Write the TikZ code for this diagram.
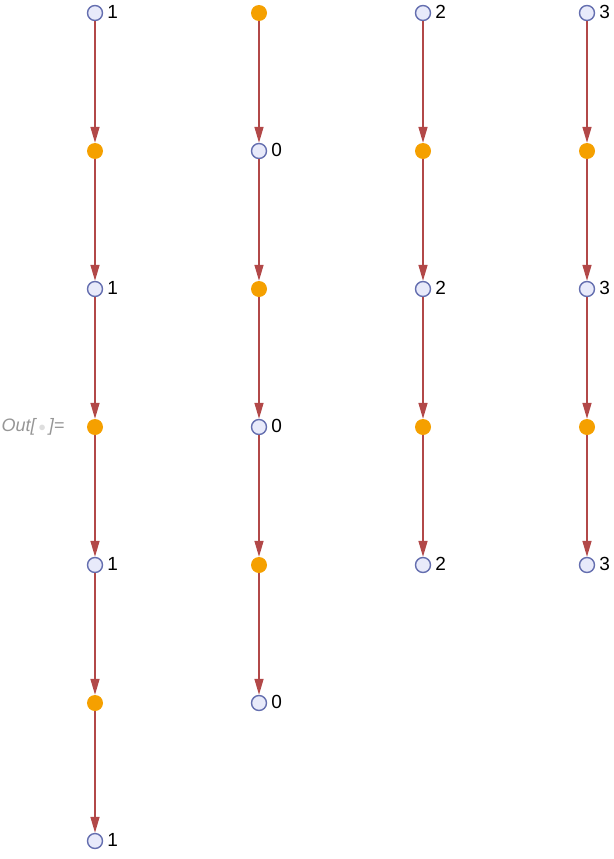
\documentclass[tikz,border=0pt]{standalone}
\usepackage{fontspec}
\setmainfont{Liberation Sans}
\usetikzlibrary{arrows.meta}
\definecolor{edgered}{RGB}{178,72,72}
\definecolor{vblue}{RGB}{100,110,175}
\definecolor{vfill}{RGB}{232,234,250}
\definecolor{vorange}{RGB}{245,160,0}
\definecolor{outgray}{RGB}{150,150,150}
\tikzset{
	every node/.style = {font=\fontsize{18}{20}\selectfont},
	val/.style = {circle, draw=vblue, fill=vfill, line width=1.4pt, minimum size=15pt, inner sep=0pt},
	lab/.style = {inner sep=0pt, anchor=west, xshift=4pt, yshift=1pt, font=\fontsize{19}{21}\selectfont},
	op/.style = {circle, fill=vorange, minimum size=16pt, inner sep=0pt},
	edge/.style = {-{Triangle[length=16pt,width=9pt]}, edgered, line width=1.5pt}
}

\begin{document}
\begin{tikzpicture}[x=1pt, y=-1pt]
		\useasboundingbox (0,0) rectangle (613,859);
		% prompt
		\node[font=\fontsize{18}{20}\selectfont\itshape, text=outgray, inner sep=0pt] (out) at (33,427) {Out[\,{\color{black!13}\Large$\bullet$}\,]=};
		% chains: column / x / value / length / starts with op
		\foreach \c/\x/\v/\n/\s in {1/95/1/7/0, 2/259/0/6/1, 3/423/2/5/0, 4/587/3/5/0} {
			\foreach \r in {1,...,\n} {
				\pgfmathtruncatemacro{\odd}{mod(\r+\s,2)}
				\ifnum\odd=1
					\node[val, label={[lab]0:\v}] (n\c-\r) at (\x,{13+138*(\r-1)}) {};
				\else
					\node[op] (n\c-\r) at (\x,{13+138*(\r-1)}) {};
				\fi
			}
			% arrows
			\foreach \r in {2,...,\n} {
				\pgfmathtruncatemacro{\p}{\r-1}
				\draw[edge] (n\c-\p) -- (n\c-\r);
			}
		}
	\end{tikzpicture}
\end{document}
